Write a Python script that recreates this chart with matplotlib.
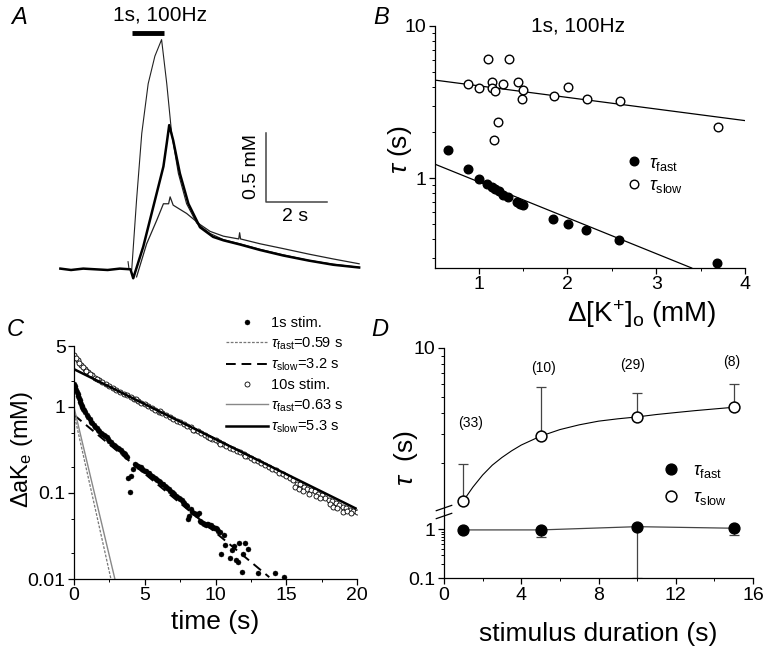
import numpy as np
import matplotlib
matplotlib.use('Agg')
import matplotlib.pyplot as plt
from matplotlib.ticker import FixedLocator, NullFormatter, FixedFormatter
from matplotlib.lines import Line2D

plt.rcParams['font.family'] = ['Liberation Sans', 'DejaVu Sans']
plt.rcParams['mathtext.fontset'] = 'custom'
plt.rcParams['mathtext.rm'] = 'Liberation Sans'
plt.rcParams['mathtext.it'] = 'Liberation Sans:italic'
plt.rcParams['mathtext.bf'] = 'Liberation Sans:bold'

W, H = 771, 659

# ---------------- panel A: K+ traces (t in s from stim onset, c in mM)
a_tall_t = [-0.13, -0.1, -0.01, 0.15, 0.32, 0.53, 0.75, 0.97, 1.14, 1.30, 1.52, 1.79, 2.12, 2.56,
            3.0, 3.54, 4.2, 4.96, 5.8, 6.6, 7.45]
a_tall_c = [0.06, 0.01, 0.0, 0.51, 0.99, 1.35, 1.55, 1.67, 1.35, 0.99, 0.70, 0.48, 0.34, 0.265,
            0.22, 0.19, 0.15, 0.11, 0.07, 0.042, 0.02]
a_mid_t = [-2.35, -2.0, -1.6, -1.2, -0.8, -0.4, -0.05, 0.04, 0.37, 0.70, 1.03, 1.14, 1.22, 1.35,
           1.57, 1.85, 2.23, 2.66, 3.0, 3.54, 4.2, 4.96, 5.8, 6.6, 7.45]
a_mid_c = [0.01, 0.0, 0.01, 0.005, 0.0, 0.01, 0.005, -0.06, 0.17, 0.46, 0.75, 0.92, 1.05, 0.94,
           0.70, 0.48, 0.31, 0.24, 0.215, 0.185, 0.145, 0.105, 0.068, 0.038, 0.018]
a_low_t = [0.15, 0.48, 0.81, 1.03, 1.2, 1.25, 1.35, 1.79, 2.23, 2.56, 3.0, 3.5, 3.53, 3.56, 4.2,
           4.96, 5.8, 6.6, 7.45]
a_low_c = [-0.05, 0.19, 0.36, 0.48, 0.48, 0.53, 0.47, 0.41, 0.33, 0.28, 0.245, 0.225, 0.27, 0.225,
           0.19, 0.155, 0.115, 0.08, 0.045]
stim_t = [0.0, 1.05]
stim_c = [1.717, 1.717]
bar_t = [4.39, 4.39, 6.39]
bar_c = [0.993, 0.493, 0.493]

# ---------------- panel B
b_fast_x = [0.655, 0.88, 1.007, 1.10, 1.15, 1.19, 1.225, 1.274, 1.337, 1.43, 1.47, 1.5,
            1.844, 2.005, 2.207, 2.579, 3.69]
b_fast_y = [1.53, 1.15, 0.99, 0.91, 0.88, 0.85, 0.82, 0.78, 0.75, 0.70, 0.68, 0.67,
            0.54, 0.50, 0.46, 0.39, 0.277]
b_slow_x = [1.112, 1.345, 0.88, 1.007, 1.15, 1.274, 1.157, 1.19, 1.442, 1.506, 1.487, 1.214,
            1.169, 1.851, 2.012, 2.222, 2.594, 3.696]
b_slow_y = [6.1, 6.1, 4.13, 3.93, 4.3, 4.13, 3.94, 3.75, 4.3, 3.79, 3.29, 2.35,
            1.77, 3.46, 3.98, 3.31, 3.21, 2.18]
b_fit_slow_x = [0.51, 4.0]
b_fit_slow_y = [4.41, 2.39]
b_fit_fast_x = [0.51, 3.4]
b_fit_fast_y = [1.236, 0.257]

# ---------------- panel C
c_1s_t = [0.0, 0.05, 0.1, 0.15, 0.2, 0.25, 0.3, 0.35, 0.4, 0.45, 0.5, 0.55, 0.6, 0.65, 0.7,
          0.8, 0.9, 1.0, 1.1, 1.2, 1.3, 1.4, 1.5, 1.6, 1.7, 1.8, 1.9, 2.0, 2.1, 2.2, 2.3,
          2.4, 2.5, 2.6, 2.7, 2.8, 2.9, 3.0, 3.1, 3.2, 3.3, 3.4, 3.5, 3.6, 3.7, 3.78,
          3.85, 3.95, 4.05, 4.2, 4.3, 4.4, 4.5, 4.6, 4.7, 4.8, 4.9, 5.0, 5.1, 5.2, 5.3,
          5.4, 5.5, 5.6, 5.7, 5.8, 5.9, 6.0, 6.1, 6.2, 6.3, 6.4, 6.5, 6.6, 6.7, 6.8, 6.9,
          7.0, 7.1, 7.2, 7.3, 7.4, 7.5, 7.6, 7.7, 7.8, 7.9, 8.0, 8.05, 8.15, 8.25, 8.35,
          8.5, 8.6, 8.7, 8.85, 8.9, 9.0, 9.1, 9.2, 9.3, 9.4, 9.5, 9.6, 9.7, 9.8, 9.9, 10.0,
          10.1, 10.2, 10.3, 10.4, 10.6, 10.7, 11.0, 11.2, 11.3, 11.46, 11.57, 11.69, 11.88,
          11.92, 12.1, 12.28, 12.98, 14.2, 14.81]
c_1s_y = [1.85, 1.75, 1.65, 1.55, 1.47, 1.40, 1.32, 1.25, 1.19, 1.13, 1.07, 1.02, 0.98, 0.95, 0.92,
          0.86, 0.80, 0.75, 0.71, 0.67, 0.64, 0.61, 0.58, 0.56, 0.54, 0.52, 0.50, 0.48, 0.47, 0.455, 0.44,
          0.42, 0.40, 0.385, 0.37, 0.36, 0.35, 0.34, 0.33, 0.32, 0.31, 0.30, 0.29, 0.28, 0.27, 0.26,
          0.15, 0.103, 0.155, 0.19, 0.215, 0.21, 0.205, 0.20, 0.197, 0.19, 0.185, 0.18, 0.177, 0.172, 0.168,
          0.163, 0.158, 0.153, 0.15, 0.145, 0.14, 0.136, 0.132, 0.128, 0.125, 0.121, 0.117, 0.114, 0.11, 0.106, 0.102,
          0.099, 0.096, 0.093, 0.09, 0.087, 0.085, 0.082, 0.079, 0.076, 0.073, 0.07, 0.05, 0.054, 0.065, 0.06,
          0.058, 0.057, 0.055, 0.059, 0.047, 0.046, 0.045, 0.043, 0.042, 0.044, 0.043, 0.041, 0.042, 0.04, 0.039, 0.039,
          0.038, 0.036, 0.035, 0.0197, 0.032, 0.025, 0.0173, 0.0216, 0.024, 0.0165, 0.0158, 0.026, 0.012,
          0.0197, 0.026, 0.0225, 0.0118, 0.0118, 0.0105]
c_10s_t = [0.0, 0.25, 0.5, 0.75, 1.0, 1.25, 1.5, 1.75, 2.0, 2.25, 2.5, 2.75, 3.0, 3.25, 3.5, 3.75,
           4.0, 4.25, 4.5, 4.75, 5.0, 5.25, 5.5, 5.75, 6.0, 6.25, 6.5, 6.75, 7.0, 7.25, 7.5, 7.75,
           8.0, 8.25, 8.5, 8.75, 9.0, 9.25, 9.5, 9.75, 10.0, 10.25, 10.5, 10.75, 11.0, 11.25, 11.5, 11.75,
           12.0, 12.25, 12.5, 12.75, 13.0, 13.25, 13.5, 13.75, 14.0, 14.25, 14.5, 14.75, 15.0, 15.25, 15.5,
           15.75, 16.0, 16.25, 16.5, 16.75, 17.0, 17.25, 17.5, 17.75, 18.0, 18.25, 18.5, 18.75, 19.0, 19.25,
           19.5, 19.75, 20.0,
           15.6, 15.9, 16.2, 16.6, 17.1, 17.4, 18.1, 18.3, 18.6, 19.0, 19.3, 19.6, 12.1, 10.3, 8.4, 9.6,
           6.1, 4.4, 0.12, 0.37, 0.62, 0.87, 1.12, 1.62]
c_10s_y = [4.0, 3.45, 3.05, 2.75, 2.52, 2.33, 2.17, 2.03, 1.92, 1.81, 1.72, 1.63, 1.56, 1.48, 1.41, 1.35,
           1.28, 1.22, 1.17, 1.11, 1.06, 1.01, 0.965, 0.915, 0.87, 0.835, 0.79, 0.755, 0.72, 0.69, 0.655, 0.625,
           0.60, 0.575, 0.54, 0.515, 0.49, 0.47, 0.45, 0.425, 0.405, 0.39, 0.37, 0.35, 0.335, 0.32, 0.305, 0.295,
           0.28, 0.27, 0.255, 0.24, 0.232, 0.22, 0.212, 0.20, 0.19, 0.183, 0.172, 0.165, 0.155, 0.148, 0.14,
           0.128, 0.125, 0.118, 0.11, 0.108, 0.104, 0.098, 0.094, 0.088, 0.082, 0.08, 0.076, 0.072, 0.068, 0.066,
           0.064, 0.062, 0.06,
           0.118, 0.112, 0.105, 0.098, 0.092, 0.087, 0.074, 0.069, 0.066, 0.06, 0.062, 0.058, 0.265, 0.37, 0.54, 0.43,
           0.88, 1.24, 3.7, 3.2, 2.9, 2.62, 2.42, 2.1]
c_fit_t_fast_1s = [0.0, 2.61]
c_fit_y_fast_1s = [0.83, 0.01]
c_fit_t_slow_1s = [0.0, 13.8]
c_fit_y_slow_1s = [0.8, 0.0105]
c_fit_t_fast_10s = [0.0, 2.89]
c_fit_y_fast_10s = [0.98, 0.01]
c_fit_t_slow_10s = [0.0, 19.9]
c_fit_y_slow_10s = [2.72, 0.066]

# ---------------- panel D
d_dur = [1, 5, 10, 15]
d_slow = [1.17, 2.9, 3.78, 4.35]
d_slow_err = [0.79, 2.9, 1.52, 1.65]
d_fast = [0.97, 0.97, 1.13, 1.05]
d_fast_err = [0.1, 0.28, 1.03, 0.29]
d_n = ['(33)', '(10)', '(29)', '(8)']
d_n_x = [1.35, 5.14, 9.75, 14.9]
d_n_y = [3.49, 7.52, 7.88, 8.25]
d_curve_x = [1.0, 1.5, 2.0, 2.5, 3.0, 3.5, 4.0, 5.0, 6.0, 7.0, 8.0, 9.0, 10.0, 11.0, 12.0, 13.0, 14.0, 15.0]
d_curve_y = [1.17, 1.42, 1.68, 1.93, 2.15, 2.36, 2.56, 2.9, 3.18, 3.4, 3.58, 3.7, 3.8, 3.93, 4.04, 4.15, 4.25, 4.35]


def px(l, t, r, b):
    return [l / W, 1 - b / H, (r - l) / W, (b - t) / H]


def style(ax, spines=('left', 'bottom')):
    for s in ['left', 'right', 'top', 'bottom']:
        ax.spines[s].set_visible(s in spines)
        ax.spines[s].set_linewidth(0.9)
    ax.tick_params(which='major', direction='out', length=4, width=0.9, labelsize=14, pad=2)
    ax.tick_params(which='minor', direction='out', length=2.5, width=0.7)


fig = plt.figure(figsize=(W / 100, H / 100), dpi=100)

# ---- A
axA = fig.add_axes(px(50, 0, 375, 290))
axA.set_xlim(-2.69, 7.97)
axA.set_ylim(-0.145, 1.957)
axA.axis('off')
axA.plot(a_tall_t, a_tall_c, color='#222222', lw=0.8)
axA.plot(a_low_t, a_low_c, color='#222222', lw=0.9)
axA.plot(a_mid_t, a_mid_c, color='black', lw=1.8)
axA.plot(stim_t, stim_c, color='black', lw=3.5, solid_capstyle='butt')
axA.plot(bar_t, bar_c, color='#444444', lw=1.1)
axA.text(0.92, 1.85, '1s, 100Hz', ha='center', va='center', fontsize=15)
axA.text(3.93, 0.75, '0.5 mM', rotation=90, ha='center', va='center', fontsize=14)
axA.text(5.34, 0.39, '2 s', ha='center', va='center', fontsize=14)

# ---- B
axB = fig.add_axes(px(435, 26, 745, 268))
style(axB)
axB.set_yscale('log')
axB.plot(b_fit_slow_x, b_fit_slow_y, color='black', lw=0.9)
axB.plot(b_fit_fast_x, b_fit_fast_y, color='black', lw=0.9)
axB.plot(b_fast_x, b_fast_y, 'o', ms=6.2, mfc='black', mec='black', label=r'$\tau_{\rm fast}$', clip_on=False)
axB.plot(b_slow_x, b_slow_y, 'o', ms=6.2, mfc='white', mec='black', mew=1.0, label=r'$\tau_{\rm slow}$', clip_on=False)
axB.set_xlim(0.51, 4.0)
axB.set_ylim(0.257, 10)
axB.xaxis.set_major_locator(FixedLocator([1, 2, 3, 4]))
axB.xaxis.set_minor_locator(FixedLocator([1.5, 2.5, 3.5]))
axB.yaxis.set_major_locator(FixedLocator([1, 10]))
axB.yaxis.set_major_formatter(FixedFormatter(['1', '10']))
axB.yaxis.set_minor_locator(FixedLocator([0.3, 0.4, 0.5, 0.6, 0.7, 0.8, 0.9, 2, 3, 4, 5, 6, 7, 8, 9]))
axB.yaxis.set_minor_formatter(NullFormatter())
axB.set_xlabel(r'$\Delta$[K$^{+}$]$_{\rm o}$ (mM)', fontsize=20)
axB.xaxis.set_label_coords(0.668, -0.125)
axB.set_ylabel(r'$\tau$ (s)', fontsize=19)
axB.yaxis.set_label_coords(-0.068, 0.49)
axB.text(0.461, 1.0, '1s, 100Hz', transform=axB.transAxes, ha='center', va='center', fontsize=15)
axB.legend(loc='center left', bbox_to_anchor=(0.585, 0.385), frameon=False, fontsize=13,
           handlelength=1.0, handletextpad=0.3, labelspacing=0.25, borderpad=0, numpoints=1)

# ---- C
axC = fig.add_axes(px(74, 346.4, 357, 579))
style(axC)
axC.set_yscale('log')
h1, = axC.plot(c_1s_t, c_1s_y, 'o', ms=3.6, mfc='black', mec='black', mew=0.3, label='1s stim.')
h4, = axC.plot(c_10s_t, c_10s_y, 'o', ms=3.6, mfc='white', mec='black', mew=0.6, label='10s stim.')
h2, = axC.plot(c_fit_t_fast_1s, c_fit_y_fast_1s, color='#777777', lw=0.9, ls=(0, (2.2, 1.2)),
               label=r'$\tau_{\rm fast}$=0.59 s')
h3, = axC.plot(c_fit_t_slow_1s, c_fit_y_slow_1s, color='black', lw=1.4, ls=(0, (5, 3)),
               label=r'$\tau_{\rm slow}$=3.2 s')
h5, = axC.plot(c_fit_t_fast_10s, c_fit_y_fast_10s, color='#888888', lw=1.0, label=r'$\tau_{\rm fast}$=0.63 s')
h6, = axC.plot(c_fit_t_slow_10s, c_fit_y_slow_10s, color='black', lw=1.8, label=r'$\tau_{\rm slow}$=5.3 s')
axC.set_xlim(0, 20)
axC.set_ylim(0.01, 5)
axC.xaxis.set_major_locator(FixedLocator([0, 5, 10, 15, 20]))
axC.xaxis.set_minor_locator(FixedLocator([2.5, 7.5, 12.5, 17.5]))
axC.yaxis.set_major_locator(FixedLocator([0.01, 0.1, 1, 5]))
axC.yaxis.set_major_formatter(FixedFormatter(['0.01', '0.1', '1', '5']))
axC.yaxis.set_minor_locator(FixedLocator([0.02, 0.05, 0.2, 0.5, 2]))
axC.yaxis.set_minor_formatter(NullFormatter())
axC.set_xlabel('time (s)', fontsize=19)
axC.xaxis.set_label_coords(0.5, -0.133)
axC.set_ylabel(r'$\Delta$aK$_{\rm e}$ (mM)', fontsize=17)
axC.yaxis.set_label_coords(-0.138, 0.555)
fig.legend(handles=[h1, h2, h3, h4, h5, h6], loc='upper left',
           bbox_to_anchor=(226 / W, 1 - 316 / H), frameon=False, fontsize=10.5,
           handlelength=2.9, handletextpad=0.2, labelspacing=0.35, borderpad=0, borderaxespad=0,
           numpoints=1)

# ---- D (broken log axis)
axDu = fig.add_axes(px(444, 348, 753, 512))
axDl = fig.add_axes(px(444, 512, 753, 578.3))
style(axDu, spines=('left',))
style(axDl)
for ax in (axDu, axDl):
    ax.set_yscale('log')
    ax.set_xlim(0, 16)
axDu.set_ylim(1, 10)
axDl.set_ylim(0.1, 2.25)
axDu.tick_params(axis='x', which='both', bottom=False, labelbottom=False)
axDu.plot(d_curve_x, d_curve_y, color='black', lw=0.8)
axDu.errorbar(d_dur, d_slow, yerr=[[0, 0, 0, 0], d_slow_err], fmt='none', ecolor='#444444',
              elinewidth=0.9, capsize=3.5, capthick=0.9)
axDu.plot(d_dur, d_slow, 'o', ms=7.8, mfc='white', mec='black', mew=1.1, label=r'$\tau_{\rm slow}$',
          clip_on=False, zorder=5)
axDl.plot(d_dur, d_fast, color='#444444', lw=0.9)
axDl.errorbar(d_dur, d_fast, yerr=[d_fast_err, [0, 0, 0, 0]], fmt='none', ecolor='#444444',
              elinewidth=0.9, capsize=3.5, capthick=0.9)
axDl.plot(d_dur, d_fast, 'o', ms=7.8, mfc='black', mec='black', label=r'$\tau_{\rm fast}$',
          clip_on=False, zorder=5)
for lab, x, y in zip(d_n, d_n_x, d_n_y):
    axDu.text(x, y, lab, ha='center', va='center', fontsize=10)
axDu.yaxis.set_major_locator(FixedLocator([10]))
axDu.yaxis.set_major_formatter(FixedFormatter(['10']))
axDu.yaxis.set_minor_locator(FixedLocator([2, 3, 4, 5, 6, 7, 8, 9]))
axDu.yaxis.set_minor_formatter(NullFormatter())
axDl.yaxis.set_major_locator(FixedLocator([0.1, 1]))
axDl.yaxis.set_major_formatter(FixedFormatter(['0.1', '1']))
axDl.yaxis.set_minor_locator(FixedLocator([0.2, 0.3, 0.4, 0.5, 0.6, 0.7, 0.8, 0.9]))
axDl.yaxis.set_minor_formatter(NullFormatter())
axDl.xaxis.set_major_locator(FixedLocator([0, 4, 8, 12, 16]))
axDl.xaxis.set_minor_locator(FixedLocator([2, 6, 10, 14]))
axDl.set_xlabel('stimulus duration (s)', fontsize=19)
axDl.xaxis.set_label_coords(0.5, -0.66)
axDu.set_ylabel(r'$\tau$  (s)', fontsize=19)
axDu.yaxis.set_label_coords(-0.078, 0.33)
# break marks on the left spine
for dy in (-0.012, 0.012):
    axDl.add_line(Line2D([-0.025, 0.025], [1.0 + dy * 5 - 0.04, 1.0 + dy * 5 + 0.04],
                         transform=axDl.transAxes, color='black', lw=0.9, clip_on=False))
hf = axDl.get_legend_handles_labels()
hs = axDu.get_legend_handles_labels()
axDu.legend(hf[0] + hs[0], hf[1] + hs[1], loc='center left', bbox_to_anchor=(0.677, 0.168),
            frameon=False, fontsize=13, handlelength=1.0, handletextpad=0.7, labelspacing=0.5,
            borderpad=0, numpoints=1)

# panel letters
for letter, x, y in [('A', 19, 17), ('B', 381, 17), ('C', 15, 330), ('D', 380, 330)]:
    fig.text(x / W, 1 - y / H, letter, fontsize=17, style='italic', ha='center', va='center')

fig.savefig('out.png', dpi=100)
